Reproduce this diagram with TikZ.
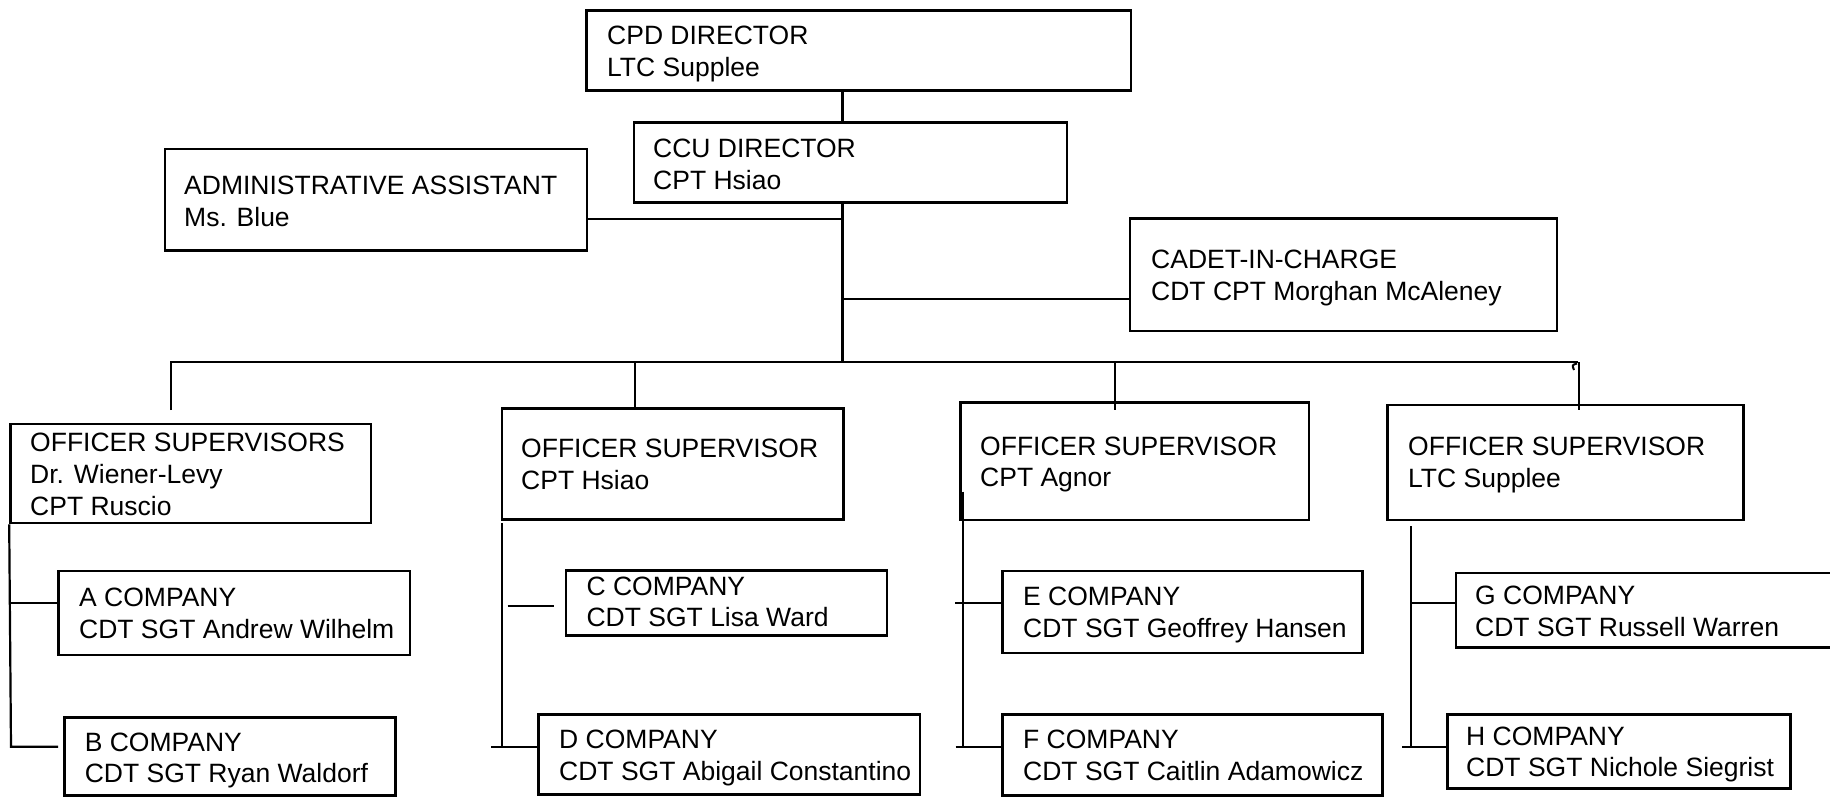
\documentclass[tikz,border=0pt]{standalone}
\usepackage{fontspec}
\setmainfont{Liberation Sans}
\usetikzlibrary{fit}
\begin{document}
\begin{tikzpicture}[x=1pt,y=-1pt,
  box/.style={draw, line width=2.6pt, inner sep=0pt, fit={#1}},
  txt/.style={anchor=base west, inner sep=0pt, align=left, font=\fontsize{26.5}{31.7}\selectfont},
  ln/.style={line width=2.2pt}]
\useasboundingbox[fill=white] (0,0) rectangle (1830,797);
% boxes
\node[box={(586.5,10.7) (1131,90.7)}] (cpd) {};
\node[box={(634,122.7) (1067,202.7)}] (ccu) {};
\node[box={(165,149) (587,250.7)}] (admin) {};
\node[box={(1130,218.3) (1557,331)}] (cadet) {};
\node[box={(10.5,424) (371,523)}] (os1) {};
\node[box={(502,408.3) (843.6,519.5)}] (os2) {};
\node[box={(960.5,402.7) (1308.8,520)}] (os3) {};
\node[box={(1387.5,405) (1743.5,520)}] (os4) {};
\node[box={(58.3,571) (410,655)}] (A) {};
\node[box={(64.3,717.5) (395.6,795.5)}] (B) {};
\node[box={(566,570.7) (886.8,635.5)}] (C) {};
\node[box={(538.3,714.5) (920,794.5)}] (D) {};
\node[box={(1002.5,571) (1362.5,653)}] (E) {};
\node[box={(1002.5,714.5) (1382.7,795.5)}] (F) {};
\node[box={(1456,573) (1850,647.5)}] (G) {};
\node[box={(1447.7,714.5) (1790.7,788.3)}] (H) {};
% texts (anchor at baseline of the last line)
\node[txt] (cpdT) at (607,76.7) {CPD DIRECTOR\\LTC Supplee};
\node[txt] (ccuT) at (653,189) {CCU DIRECTOR\\CPT Hsiao};
\node[txt] (adminT) at (184,226) {ADMINISTRATIVE ASSISTANT\\Ms. Blue};
\node[txt] (cadetT) at (1151,300) {CADET-IN-CHARGE\\CDT CPT Morghan McAleney};
\node[txt] (os1T) at (30,515) {OFFICER SUPERVISORS\\Dr. Wiener-Levy\\CPT Ruscio};
\node[txt] (os2T) at (521,489) {OFFICER SUPERVISOR\\CPT Hsiao};
\node[txt] (os3T) at (980,486.7) {OFFICER SUPERVISOR\\CPT Agnor};
\node[txt] (os4T) at (1408,487.3) {OFFICER SUPERVISOR\\LTC Supplee};
\node[txt] (AT) at (79,638.3) {A COMPANY\\CDT SGT Andrew Wilhelm};
\node[txt] (BT) at (84.6,782.7) {B COMPANY\\CDT SGT Ryan Waldorf};
\node[txt] (CT) at (586.4,626.7) {C COMPANY\\CDT SGT Lisa Ward};
\node[txt] (DT) at (559,780) {D COMPANY\\CDT SGT Abigail Constantino};
\node[txt] (ET) at (1023,637.3) {E COMPANY\\CDT SGT Geoffrey Hansen};
\node[txt] (FT) at (1023,780) {F COMPANY\\CDT SGT Caitlin Adamowicz};
\node[txt] (GT) at (1475,636) {G COMPANY\\CDT SGT Russell Warren};
\node[txt] (HT) at (1466,776.7) {H COMPANY\\CDT SGT Nichole Siegrist};
% coordinates
\coordinate (t1) at (842.5,219);
\coordinate (t2) at (842.5,299);
\coordinate (busC) at (842.5,362.3);
\coordinate (busL) at (171,362.3);
\coordinate (busR) at (1578,362.3);
\coordinate (d1) at (171,410);
\coordinate (d2) at (635,410);
\coordinate (d3) at (1115,410);
\coordinate (d4) at (1579,410);
% top connectors
\draw[ln] (cpd.south -| busC) -- (ccu.north -| busC);
\draw[ln] (ccu.south -| busC) -- (busC);
\draw[ln] (t1 -| admin.east) -- (t1);
\draw[ln] (t2) -- (t2 -| cadet.west);
\draw[ln] (d1) -- (busL) -- (busR);
\draw[ln] (d2 |- busL) -- (d2);
\draw[ln] (d3 |- busL) -- (d3);
\draw[ln] (d4 |- busL) -- (d4);
\draw[line width=2pt] (1577,363.5) .. controls (1572,365) .. (1574,370);
% group 1
\coordinate (g1b) at (11,746.7);
\coordinate (a1) at (11,603.3);
\draw[ln] (os1.south west) -- (g1b) -- ([xshift=-5pt]g1b -| B.west);
\draw[ln] (a1) -- (a1 -| A.west);
% group 2
\coordinate (g2t) at (502.3,523.3);
\coordinate (g2b) at (502.3,746.7);
\coordinate (c1) at (507.7,606);
\coordinate (dL) at (491,746.7);
\draw[ln] (g2t) -- (g2b);
\draw[ln] (c1) -- ([xshift=-10.3pt]c1 -| C.west);
\draw[ln] (dL) -- (dL -| D.west);
% group 3
\coordinate (g3k) at (961.5,491.7);
\coordinate (g3t) at (963.3,520);
\coordinate (g3b) at (963.3,746.7);
\coordinate (e1) at (955,602.7);
\coordinate (f1) at (955.7,746.7);
\draw[line width=4pt] (g3k) -- (g3k |- os3.south);
\draw[ln] (g3t) -- (g3b);
\draw[ln] (e1) -- (e1 -| E.west);
\draw[ln] (f1) -- (f1 -| F.west);
% group 4
\coordinate (g4t) at (1410.7,526);
\coordinate (g4b) at (1410.7,748.3);
\coordinate (g1) at (1410.7,602.7);
\coordinate (h1) at (1402.3,747.3);
\draw[ln] (g4t) -- (g4b);
\draw[ln] (g1) -- (g1 -| G.west);
\draw[ln] (h1) -- (h1 -| H.west);
\end{tikzpicture}
\end{document}
